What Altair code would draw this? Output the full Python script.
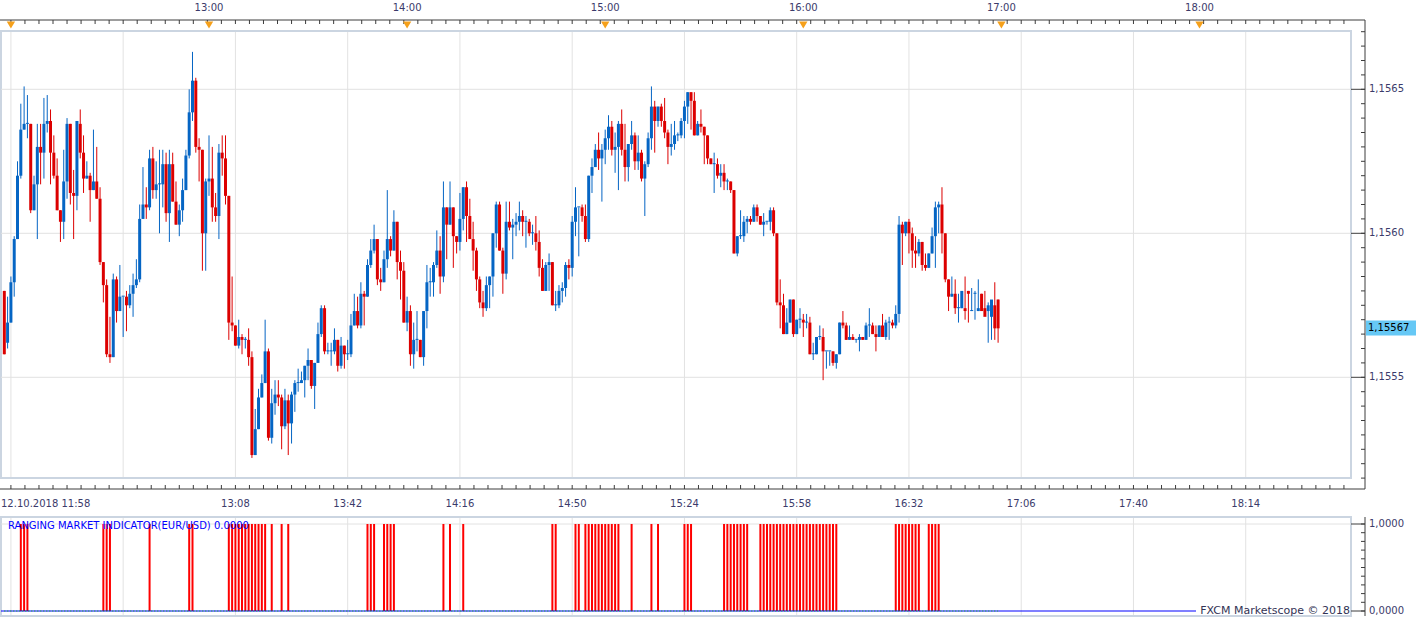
import altair as alt
import pandas as pd
import numpy as np

# ---------------- data (price points, 1 point = 0.00001 above 1.15500) ----------------
BASE_PRICE = 1.155
OPEN_PTS = [80,62,69,83,98,120,136,138,138,108,117,130,128,138,139,128,120,108,104,118,
            138,114,113,138,128,119,120,115,118,112,90,82,58,57,84,73,78,78,75,79,
            82,84,105,110,109,126,115,117,117,124,107,124,111,103,108,115,127,142,153,130,
            129,100,118,119,109,106,128,126,113,69,68,61,64,63,63,57,23,32,43,48,
            59,29,41,44,43,33,42,34,44,48,48,49,54,56,47,55,65,74,59,59,
            59,63,54,61,58,58,68,73,68,79,78,89,94,98,84,83,91,98,94,104,
            90,87,69,73,58,63,63,57,73,83,83,89,94,85,109,103,109,99,97,105,
            116,106,98,94,84,76,74,82,85,100,110,94,86,104,102,103,104,106,104,104,
            100,100,97,88,80,89,90,75,75,80,81,89,88,104,109,109,106,98,120,123,
            129,126,129,133,137,129,130,138,129,123,131,134,125,128,119,124,133,144,139,144,
            139,135,130,131,134,134,139,144,149,146,134,138,137,134,126,124,124,120,121,118,
            118,115,93,99,99,104,105,104,109,106,103,104,104,108,100,76,75,65,69,77,
            65,70,70,69,69,58,58,64,64,59,59,59,55,58,69,68,63,64,63,63,
            64,63,68,68,65,64,68,64,69,69,68,72,103,100,104,100,94,93,97,89,
            88,93,99,109,110,100,84,78,79,74,74,74,80,73,79,73,79,74,73,71,
            75,77]
HIGH_PTS = [80,78,85,99,125,145,151,148,138,120,138,138,147,148,143,134,126,108,129,140,
            138,122,139,143,134,125,121,136,130,116,90,84,71,86,85,89,78,80,82,86,
            91,110,123,116,129,130,125,129,129,128,129,128,118,110,119,129,150,163,154,133,
            129,119,134,130,114,131,134,134,113,85,68,70,65,64,67,59,39,46,51,70,
            60,46,49,49,44,46,44,45,49,53,52,54,60,56,55,69,75,75,62,62,
            67,63,64,61,63,72,79,78,83,80,91,98,103,98,88,94,115,99,108,104,
            94,90,78,75,69,73,63,73,89,88,90,101,99,118,109,118,109,99,114,116,
            118,112,104,95,85,80,85,85,100,111,111,95,111,111,105,107,111,108,106,105,
            103,106,101,91,90,93,90,80,82,83,90,91,106,116,109,110,110,120,126,131,
            135,131,136,141,139,135,139,143,138,131,139,135,134,129,125,135,151,146,144,145,
            147,136,138,139,135,140,146,149,149,149,139,143,137,134,126,128,126,124,124,119,
            118,115,99,108,106,106,106,110,110,106,107,104,109,109,100,84,79,74,77,77,
            70,74,72,72,71,62,64,68,67,59,59,59,58,69,73,69,68,65,63,65,
            64,69,74,69,68,68,72,70,71,70,75,106,104,104,105,102,99,98,97,93,
            93,102,111,111,116,100,84,85,84,79,79,85,80,81,80,84,79,80,76,75,
            83,77]
LOW_PTS = [58,60,69,78,98,119,136,133,107,108,98,117,119,135,117,119,108,97,98,112,
           110,98,108,126,114,119,104,115,112,89,76,57,55,57,69,73,64,66,74,71,
           81,83,105,105,108,112,112,100,109,104,97,111,103,99,104,115,126,139,128,118,
           87,87,113,104,104,98,120,110,63,66,61,60,58,60,54,22,23,32,43,48,
           28,27,37,40,25,32,23,27,38,45,48,43,49,46,39,55,64,58,58,54,
           58,52,53,53,56,57,68,67,67,68,78,88,93,82,80,83,88,92,94,84,
           77,69,66,54,53,59,57,54,67,78,78,88,79,83,91,103,88,93,94,101,
           97,98,87,80,74,71,73,74,78,95,94,79,84,101,91,99,101,99,95,99,
           96,94,85,80,80,80,75,73,74,76,78,84,85,99,92,104,97,97,114,123,
           122,111,124,129,127,121,115,127,118,118,129,122,122,118,106,123,129,128,137,137,
           133,124,127,129,132,133,133,138,136,134,134,135,124,124,124,114,119,116,115,115,
           114,93,92,98,97,100,103,104,104,103,99,103,101,99,75,67,65,65,69,64,
           65,67,64,67,58,56,58,63,49,53,54,54,53,58,67,63,63,63,62,59,
           63,63,64,65,59,64,64,63,63,67,67,69,89,99,93,88,88,92,87,87,
           88,93,88,100,93,83,73,78,72,69,74,70,69,73,70,73,74,73,62,63,
           63,62]
CLOSE_PTS = [58,69,83,98,120,136,138,138,108,117,130,128,138,139,128,120,108,104,118,138,
             114,113,139,128,119,120,115,118,112,90,82,58,57,84,73,78,78,75,79,82,
             84,105,110,109,126,115,117,117,124,107,124,111,103,108,115,127,142,153,130,129,
             100,118,119,109,106,128,126,113,69,68,61,64,63,63,57,23,32,43,48,59,
             29,41,44,43,33,42,34,44,48,48,49,54,56,47,55,65,74,59,59,59,
             63,54,61,58,58,68,73,68,79,78,89,94,98,84,83,91,98,94,104,90,
             87,69,73,58,63,63,57,73,83,83,89,94,85,109,103,109,99,97,105,116,
             106,98,94,84,76,74,82,85,100,110,94,86,104,102,103,104,106,104,104,100,
             100,97,88,80,89,90,75,75,80,81,89,88,104,109,109,106,98,120,123,129,
             126,129,133,137,129,130,138,129,123,131,134,125,128,119,124,133,144,139,144,139,
             135,130,131,134,134,139,144,149,146,134,138,137,134,126,124,124,120,121,118,118,
             115,93,99,99,104,105,104,109,106,103,104,104,108,100,76,75,65,69,77,65,
             70,70,69,69,58,58,64,64,59,59,59,55,58,69,68,63,64,63,63,64,
             63,68,68,65,64,68,64,69,69,68,72,103,100,104,100,94,93,97,89,88,
             93,99,109,110,100,84,78,79,74,74,80,73,79,73,79,74,73,71,75,77,
             67,67]
CLOSE_PTS = CLOSE_PTS[:len(OPEN_PTS)]

# ranging-market indicator: minutes (index from 11:58) where value = 1
INDICATOR_ON = [5, 6, 7, 30, 31, 32, 44, 56, 57,
                68, 69, 70, 71, 72, 73, 74, 75, 76, 77, 78, 79, 81, 84, 86,
                110, 111, 112, 115, 116, 117, 118, 133, 135, 139,
                166, 167, 173, 174, 176, 177, 178, 179, 180, 181, 182, 183, 184, 185, 186, 190,
                196, 198, 206, 207, 208,
                218, 219, 220, 221, 222, 223, 224, 225, 229, 230, 231,
                232, 233, 234, 235, 236, 237, 238, 239, 240, 241, 242, 243, 244, 245, 246, 247,
                248, 249, 250, 251, 252,
                270, 271, 272, 273, 274, 275, 276, 277, 280, 281, 282, 283]

START_LABEL = "12.10.2018 11:58"
BOTTOM_LABEL_MIN = [70, 104, 138, 172, 206, 240, 274, 308, 342, 376]
BOTTOM_LABELS = ["13:08", "13:42", "14:16", "14:50", "15:24", "15:58", "16:32", "17:06", "17:40", "18:14"]
GRID_MIN = [2, 36, 70, 104, 138, 172, 206, 240, 274, 308, 342, 376]
TOP_LABEL_MIN = [62, 122, 182, 242, 302, 362]
TOP_LABELS = ["13:00", "14:00", "15:00", "16:00", "17:00", "18:00"]
HOUR_MARK_MIN = [2, 62, 122, 182, 242, 302, 362]
PRICE_TICKS = [1.1555, 1.1560, 1.1565]
PRICE_LABELS = ["1,1555", "1,1560", "1,1565"]
IND_TICKS = [0.0, 1.0]
IND_LABELS = ["0,0000", "1,0000"]
LAST_LABEL = "1,15567"
IND_TITLE = "RANGING MARKET INDICATOR(EUR/USD)  0.0000"
COPYRIGHT = "FXCM Marketscope \u00a9 2018"

# ---------------- layout ----------------
W, H = 1423, 619
PX_PER_MIN = 3.325
X_OFF = -0.7
XS = alt.Scale(domain=[(0 - X_OFF) / PX_PER_MIN, (W - X_OFF) / PX_PER_MIN], nice=False, zero=False)
Y1565_PX = 89.3
PX_PER_PRICE = 288000.0
YP = alt.Scale(domain=[1.1565 - (H - Y1565_PX) / PX_PER_PRICE, 1.1565 + Y1565_PX / PX_PER_PRICE],
               nice=False, zero=False)
IND1_PX, IND0_PX = 524.0, 611.0
IND_PX = IND0_PX - IND1_PX
YI = alt.Scale(domain=[-(H - IND0_PX) / IND_PX, IND0_PX / IND_PX], nice=False, zero=False)

BLUE = "#0565c4"
RED = "#dc0000"
GRID = "#e2e2e2"
FRAME = "#cbd5e1"
AXIS = "#3c3c3c"
TXT = "#3b3b6b"
FONT = "DejaVu Sans"

PLOT_L, PLOT_R, PLOT_T, PLOT_B = 0, 1351, 31, 478
AX_R, AX_T, AX_B = 1365, 20, 489
LOW_T, LOW_B = 517, 616

n = len(OPEN_PTS)
df = pd.DataFrame({
    "i": np.arange(n),
    "open": [BASE_PRICE + v / 1e5 for v in OPEN_PTS],
    "high": [BASE_PRICE + v / 1e5 for v in HIGH_PTS],
    "low": [BASE_PRICE + v / 1e5 for v in LOW_PTS],
    "close": [BASE_PRICE + v / 1e5 for v in CLOSE_PTS],
})
df["dir"] = np.where(df["close"] >= df["open"], "up", "down")
df["blo"] = df[["open", "close"]].min(axis=1)
df["bhi"] = df[["open", "close"]].max(axis=1)
thin = (df["bhi"] - df["blo"]) < 0.0000035
df.loc[thin, "bhi"] = df.loc[thin, "blo"] + 0.0000035

color = alt.Color("dir:N", scale=alt.Scale(domain=["up", "down"], range=[BLUE, RED]), legend=None)
one = alt.Data(values=[{"a": 1}])

def xq(field):
    return alt.X(field, type="quantitative", scale=XS, axis=None)

def yp(field):
    return alt.Y(field, type="quantitative", scale=YP, axis=None)

def yi(field):
    return alt.Y(field, type="quantitative", scale=YI, axis=None)

layers = []

# frames
layers.append(alt.Chart(one).mark_rect(filled=False, stroke=FRAME, strokeWidth=2).encode(
    x=alt.value(PLOT_L + 1), x2=alt.value(PLOT_R), y=alt.value(PLOT_T), y2=alt.value(PLOT_B)))
layers.append(alt.Chart(one).mark_rect(filled=False, stroke=FRAME, strokeWidth=2).encode(
    x=alt.value(PLOT_L + 1), x2=alt.value(PLOT_R), y=alt.value(LOW_T), y2=alt.value(LOW_B)))

# grid lines
grid_df = pd.DataFrame({"m": GRID_MIN})
layers.append(alt.Chart(grid_df).mark_rule(color=GRID, strokeWidth=1).encode(
    x=xq("m"), y=alt.value(PLOT_T + 1), y2=alt.value(PLOT_B - 1)))
layers.append(alt.Chart(grid_df).mark_rule(color=GRID, strokeWidth=1).encode(
    x=xq("m"), y=alt.value(LOW_T + 1), y2=alt.value(LOW_B - 1)))
pgrid = pd.DataFrame({"p": PRICE_TICKS, "lab": PRICE_LABELS})
layers.append(alt.Chart(pgrid).mark_rule(color=GRID, strokeWidth=1).encode(
    y=yp("p"), x=alt.value(PLOT_L + 1), x2=alt.value(PLOT_R)))
igrid = pd.DataFrame({"v": [1.0]})
layers.append(alt.Chart(igrid).mark_rule(color=GRID, strokeWidth=1).encode(
    y=yi("v"), x=alt.value(PLOT_L + 1), x2=alt.value(PLOT_R)))

# candles
layers.append(alt.Chart(df).mark_rule(strokeWidth=1).encode(
    x=xq("i"), y=yp("low"), y2=alt.Y2("high"), color=color))
layers.append(alt.Chart(df).mark_bar(size=3).encode(
    x=xq("i"), y=yp("blo"), y2=alt.Y2("bhi"), color=color))

# indicator
ind_df = pd.DataFrame({"m": INDICATOR_ON, "lo": 0.0, "hi": 1.0})
layers.append(alt.Chart(ind_df).mark_rule(color="#ff0000", strokeWidth=2).encode(
    x=xq("m"), y=yi("lo"), y2=alt.Y2("hi")))
base_df = pd.DataFrame({"v": [0.0]})
layers.append(alt.Chart(base_df).mark_rule(color="#0000ff", strokeWidth=1).encode(
    y=yi("v"), x=alt.value(PLOT_L + 1), x2=alt.value(1196)))
layers.append(alt.Chart(pd.DataFrame({"v": [0.0], "a": [0], "b": [n - 1]})).mark_rule(
    color="#00c000", strokeWidth=1, strokeDash=[1, 2]).encode(
    y=yi("v"), x=xq("a"), x2=alt.X2("b")))

# axis lines
layers.append(alt.Chart(one).mark_rule(color=AXIS, strokeWidth=1).encode(
    x=alt.value(0), x2=alt.value(AX_R), y=alt.value(AX_T)))
layers.append(alt.Chart(one).mark_rule(color=AXIS, strokeWidth=1).encode(
    x=alt.value(0), x2=alt.value(AX_R), y=alt.value(AX_B)))
layers.append(alt.Chart(one).mark_rule(color=AXIS, strokeWidth=1).encode(
    x=alt.value(AX_R), y=alt.value(AX_T), y2=alt.value(AX_B)))
layers.append(alt.Chart(one).mark_rule(color=AXIS, strokeWidth=1).encode(
    x=alt.value(AX_R), y=alt.value(LOW_T), y2=alt.value(LOW_B)))

# price axis ticks
minor_p = pd.DataFrame({"p": [1.1551 + 0.00005 * k for k in range(33)]})
layers.append(alt.Chart(minor_p).transform_filter(
    "datum.p < 1.15672 && datum.p > 1.15515").mark_rule(color=AXIS, strokeWidth=1).encode(
    y=yp("p"), x=alt.value(AX_R - 4), x2=alt.value(AX_R)))
layers.append(alt.Chart(pgrid).mark_rule(color=AXIS, strokeWidth=1).encode(
    y=yp("p"), x=alt.value(PLOT_R), x2=alt.value(AX_R)))
layers.append(alt.Chart(pgrid).mark_text(align="left", baseline="middle", font=FONT, fontSize=10,
                                         color=TXT, dx=4).encode(
    y=yp("p"), x=alt.value(AX_R), text="lab:N"))

# indicator axis ticks and labels
minor_i = pd.DataFrame({"v": [0.1 * k for k in range(11)]})
layers.append(alt.Chart(minor_i).mark_rule(color=AXIS, strokeWidth=1).encode(
    y=yi("v"), x=alt.value(AX_R - 4), x2=alt.value(AX_R)))
ilab = pd.DataFrame({"v": IND_TICKS, "lab": IND_LABELS})
layers.append(alt.Chart(ilab).mark_rule(color=AXIS, strokeWidth=1).encode(
    y=yi("v"), x=alt.value(PLOT_R), x2=alt.value(AX_R)))
layers.append(alt.Chart(ilab).mark_text(align="left", baseline="middle", font=FONT, fontSize=10,
                                        color=TXT, dx=4).encode(
    y=yi("v"), x=alt.value(AX_R), text="lab:N"))

# time axis ticks
minor_t = pd.DataFrame({"m": [2 + 4.25 * k for k in range(96)]})
layers.append(alt.Chart(minor_t).transform_filter("datum.m < 410").mark_rule(
    color=AXIS, strokeWidth=1).encode(x=xq("m"), y=alt.value(AX_B - 4), y2=alt.value(AX_B)))
layers.append(alt.Chart(minor_t).transform_filter("datum.m < 410").mark_rule(
    color=AXIS, strokeWidth=1).encode(x=xq("m"), y=alt.value(AX_T), y2=alt.value(AX_T + 4)))
blab = pd.DataFrame({"m": BOTTOM_LABEL_MIN, "lab": BOTTOM_LABELS})
layers.append(alt.Chart(blab).mark_text(align="center", baseline="middle", font=FONT, fontSize=10,
                                        color=TXT).encode(x=xq("m"), y=alt.value(504), text="lab:N"))
layers.append(alt.Chart(pd.DataFrame({"lab": [START_LABEL]})).mark_text(
    align="left", baseline="middle", font=FONT, fontSize=10, color=TXT).encode(
    x=alt.value(1), y=alt.value(504), text="lab:N"))
tlab = pd.DataFrame({"m": TOP_LABEL_MIN, "lab": TOP_LABELS})
layers.append(alt.Chart(tlab).mark_text(align="center", baseline="middle", font=FONT, fontSize=10,
                                        color=TXT).encode(x=xq("m"), y=alt.value(8), text="lab:N"))
hmark = pd.DataFrame({"m": HOUR_MARK_MIN})
layers.append(alt.Chart(hmark).mark_point(shape="triangle-down", filled=True, color="#f5a01a",
                                          size=70, opacity=1).encode(x=xq("m"), y=alt.value(AX_T + 5)))

# last price box
last_df = pd.DataFrame({"p": [BASE_PRICE + CLOSE_PTS[-1] / 1e5], "lab": [LAST_LABEL]})
layers.append(alt.Chart(last_df).mark_bar(color="#66c8f5", height=15, orient="horizontal").encode(
    y=yp("p"), x=alt.value(AX_R + 1), x2=alt.value(1416)))
layers.append(alt.Chart(last_df).mark_text(align="left", baseline="middle", font=FONT, fontSize=10,
                                           color="#000000", dx=2).encode(
    y=yp("p"), x=alt.value(AX_R + 1), text="lab:N"))

# titles
layers.append(alt.Chart(pd.DataFrame({"t": [IND_TITLE]})).mark_text(
    align="left", baseline="middle", font=FONT, fontSize=10, color="#0000ff").encode(
    x=alt.value(8), y=alt.value(526), text="t:N"))
layers.append(alt.Chart(pd.DataFrame({"t": [COPYRIGHT]})).mark_text(
    align="right", baseline="middle", font=FONT, fontSize=11, color="#333355").encode(
    x=alt.value(1350), y=alt.value(611), text="t:N"))

chart = alt.layer(*layers).resolve_scale(y="independent").properties(
    width=W, height=H, padding=0, autosize="none", background="white"
).configure_view(stroke=None)

chart.save("out.html", embed_options={"renderer": "svg", "actions": False})
